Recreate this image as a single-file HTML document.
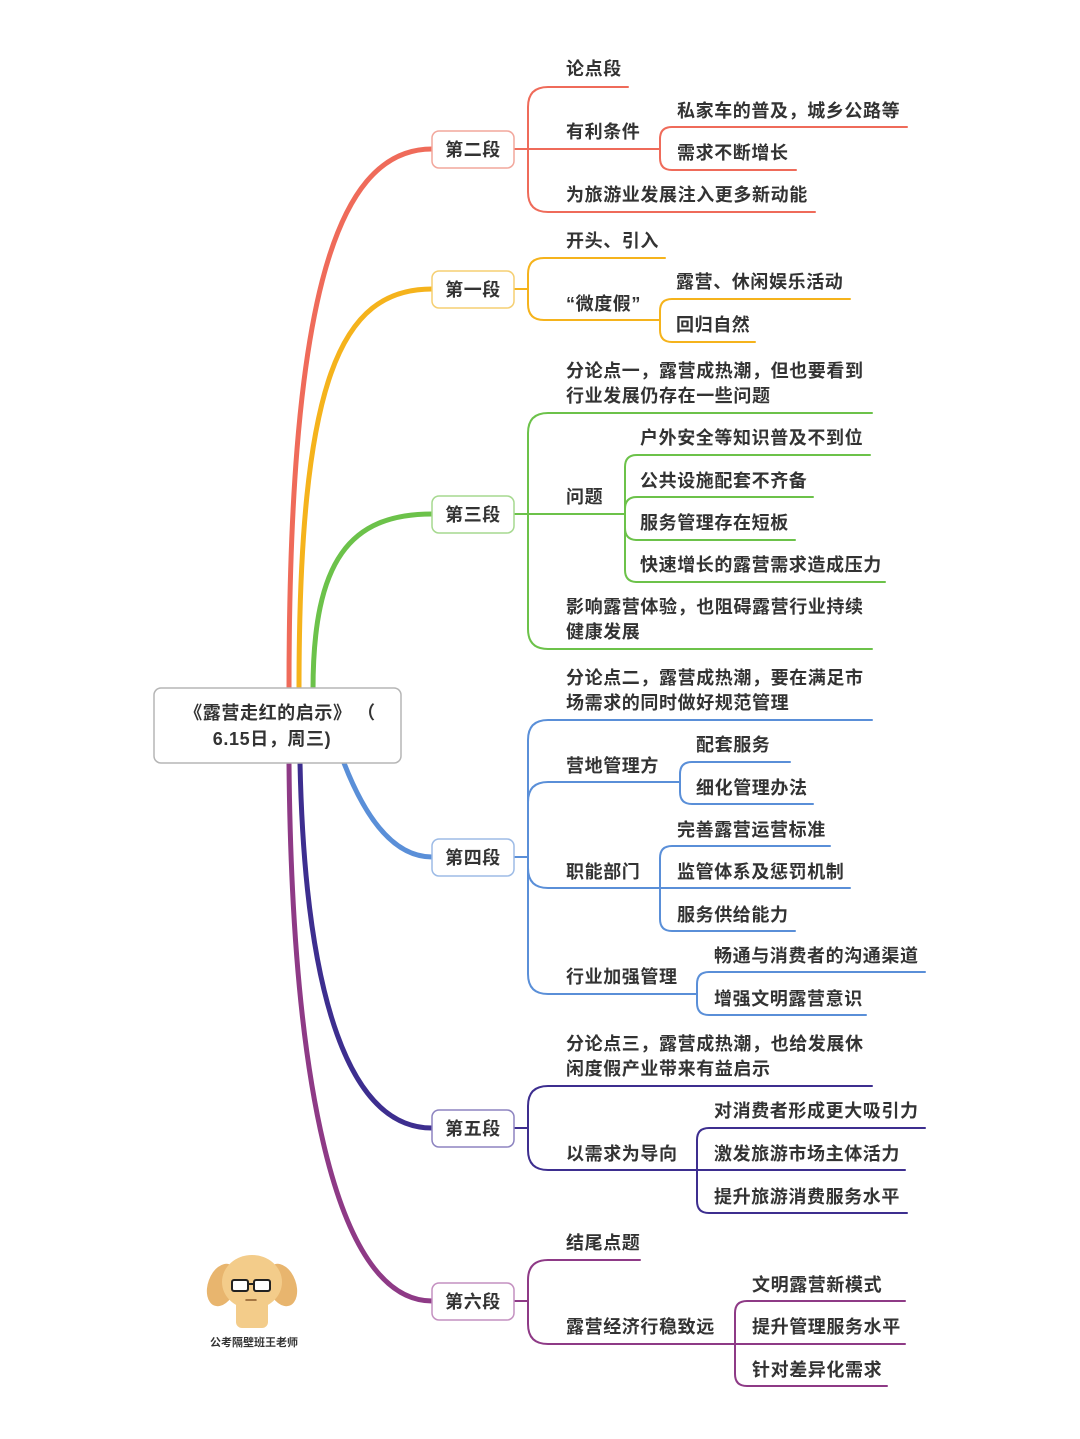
<!DOCTYPE html>
<html><head><meta charset="utf-8"><style>
html,body{margin:0;padding:0;background:#fff;}
svg{display:block;}
text{font-family:"Liberation Sans","Noto Sans CJK SC",sans-serif;font-size:18px;font-weight:bold;fill:#333;letter-spacing:0.6px;}
path{fill:none;stroke-linecap:round;}
</style></head><body>
<svg width="1080" height="1439" viewBox="0 0 1080 1439" xmlns="http://www.w3.org/2000/svg">
<rect width="1080" height="1439" fill="#fff"/>
<path d="M289,690 C289,320 330,149 432,149" stroke="#ef6b5a" stroke-width="5"/>
<path d="M299,690 C299,380 340,289 432,289" stroke="#f5b31c" stroke-width="5"/>
<path d="M313,690 C313,560 350,514 432,514" stroke="#6cc24a" stroke-width="5"/>
<path d="M344,763 C370,830 400,857 432,857" stroke="#5a8fd8" stroke-width="5"/>
<path d="M300,763 C305,1000 350,1128 432,1128" stroke="#3d2e8f" stroke-width="5"/>
<path d="M289,763 C292,1100 340,1301 432,1301" stroke="#8e3a86" stroke-width="5"/>

<g stroke="#ef6b5a" stroke-width="2">
<path d="M514,149 H660"/>
<path d="M528,149 V107 Q528,87 548,87 H628"/>
<path d="M528,149 V192 Q528,212 548,212 H815"/>
<path d="M660,149 V139 Q660,127 672,127 H907"/>
<path d="M660,149 V158 Q660,170 672,170 H796"/>
</g>
<g stroke="#f5b31c" stroke-width="2">
<path d="M514,289 H528 V274 Q528,258 544,258 H665"/>
<path d="M528,289 V304 Q528,320 544,320 H660"/>
<path d="M660,320 V311 Q660,299 672,299 H850"/>
<path d="M660,320 V330 Q660,342 672,342 H755"/>
</g>
<g stroke="#6cc24a" stroke-width="2">
<path d="M514,514 H625"/>
<path d="M528,514 V433 Q528,413 548,413 H872"/>
<path d="M528,514 V629 Q528,649 548,649 H872"/>
<path d="M625,514 V467 Q625,455 637,455 H870"/>
<path d="M625,514 V509 Q625,497 637,497 H813"/>
<path d="M625,514 V528 Q625,540 637,540 H795"/>
<path d="M625,514 V570 Q625,582 637,582 H885"/>
</g>
<g stroke="#5a8fd8" stroke-width="2">
<path d="M514,857 H528"/>
<path d="M528,857 V740 Q528,720 548,720 H872"/>
<path d="M528,857 V802 Q528,782 548,782 H680"/>
<path d="M528,857 V868 Q528,888 548,888 H660"/>
<path d="M528,857 V974 Q528,994 548,994 H697"/>
<path d="M680,782 V774 Q680,762 692,762 H790"/>
<path d="M680,782 V792 Q680,804 692,804 H813"/>
<path d="M660,888 V858 Q660,846 672,846 H830"/>
<path d="M660,888 H850"/>
<path d="M660,888 V919 Q660,931 672,931 H795"/>
<path d="M697,994 V984 Q697,972 709,972 H925"/>
<path d="M697,994 V1003 Q697,1015 709,1015 H866"/>
</g>
<g stroke="#3d2e8f" stroke-width="2">
<path d="M514,1128 H528"/>
<path d="M528,1128 V1106 Q528,1086 548,1086 H872"/>
<path d="M528,1128 V1150 Q528,1170 548,1170 H697"/>
<path d="M697,1170 V1140 Q697,1128 709,1128 H925"/>
<path d="M697,1170 H905"/>
<path d="M697,1170 V1201 Q697,1213 709,1213 H907"/>
</g>
<g stroke="#8e3a86" stroke-width="2">
<path d="M514,1301 H528"/>
<path d="M528,1301 V1280 Q528,1260 548,1260 H640"/>
<path d="M528,1301 V1324 Q528,1344 548,1344 H735"/>
<path d="M735,1344 V1313 Q735,1301 747,1301 H905"/>
<path d="M735,1344 H905"/>
<path d="M735,1344 V1374 Q735,1386 747,1386 H887"/>
</g>

<g stroke-width="1.5" fill="#fff">
<rect x="432" y="131" width="82" height="37" rx="7" stroke="#f2a79c"/>
<rect x="432" y="271" width="82" height="37" rx="7" stroke="#f5cf72"/>
<rect x="432" y="496" width="82" height="37" rx="7" stroke="#a6d98f"/>
<rect x="432" y="839" width="82" height="37" rx="7" stroke="#9dbbe6"/>
<rect x="432" y="1110" width="82" height="37" rx="7" stroke="#8d84c0"/>
<rect x="432" y="1283" width="82" height="37" rx="7" stroke="#c490c0"/>
<rect x="154" y="688" width="247" height="75" rx="7" stroke="#b5b5b5"/>
</g>
<g text-anchor="middle">
<text x="473" y="156">第二段</text>
<text x="473" y="296">第一段</text>
<text x="473" y="521">第三段</text>
<text x="473" y="864">第四段</text>
<text x="473" y="1135">第五段</text>
<text x="473" y="1308">第六段</text>
<text x="280" y="719">《露营走红的启示》 （</text>
<text x="272" y="745">6.15日，周三)</text>
</g>

<text x="566" y="75">论点段</text>
<text x="566" y="138">有利条件</text>
<text x="677" y="117">私家车的普及，城乡公路等</text>
<text x="677" y="159">需求不断增长</text>
<text x="566" y="201">为旅游业发展注入更多新动能</text>

<text x="566" y="247">开头、引入</text>
<text x="566" y="310">“微度假”</text>
<text x="676" y="288">露营、休闲娱乐活动</text>
<text x="676" y="331">回归自然</text>

<text x="566" y="377">分论点一，露营成热潮，但也要看到</text>
<text x="566" y="402">行业发展仍存在一些问题</text>
<text x="566" y="503">问题</text>
<text x="640" y="444">户外安全等知识普及不到位</text>
<text x="640" y="487">公共设施配套不齐备</text>
<text x="640" y="529">服务管理存在短板</text>
<text x="640" y="571">快速增长的露营需求造成压力</text>
<text x="566" y="613">影响露营体验，也阻碍露营行业持续</text>
<text x="566" y="638">健康发展</text>

<text x="566" y="684">分论点二，露营成热潮，要在满足市</text>
<text x="566" y="709">场需求的同时做好规范管理</text>
<text x="566" y="772">营地管理方</text>
<text x="696" y="751">配套服务</text>
<text x="696" y="794">细化管理办法</text>
<text x="566" y="878">职能部门</text>
<text x="677" y="836">完善露营运营标准</text>
<text x="677" y="878">监管体系及惩罚机制</text>
<text x="677" y="921">服务供给能力</text>
<text x="566" y="983">行业加强管理</text>
<text x="714" y="962">畅通与消费者的沟通渠道</text>
<text x="714" y="1005">增强文明露营意识</text>

<text x="566" y="1050">分论点三，露营成热潮，也给发展休</text>
<text x="566" y="1075">闲度假产业带来有益启示</text>
<text x="566" y="1160">以需求为导向</text>
<text x="714" y="1117">对消费者形成更大吸引力</text>
<text x="714" y="1160">激发旅游市场主体活力</text>
<text x="714" y="1203">提升旅游消费服务水平</text>

<text x="566" y="1249">结尾点题</text>
<text x="566" y="1333">露营经济行稳致远</text>
<text x="752" y="1291">文明露营新模式</text>
<text x="752" y="1333">提升管理服务水平</text>
<text x="752" y="1376">针对差异化需求</text>

<g>
<ellipse cx="222" cy="1285" rx="14" ry="22" fill="#e8b56e" transform="rotate(20 222 1285)"/>
<ellipse cx="282" cy="1285" rx="14" ry="22" fill="#e8b56e" transform="rotate(-20 282 1285)"/>
<ellipse cx="252" cy="1282" rx="30" ry="27" fill="#f3cc8a"/>
<rect x="236" y="1300" width="32" height="28" rx="6" fill="#f3cc8a"/>
<rect x="232" y="1280" width="16" height="11" rx="2" fill="#fff" stroke="#222" stroke-width="2"/>
<rect x="254" y="1280" width="16" height="11" rx="2" fill="#fff" stroke="#222" stroke-width="2"/>
<path d="M248,1284 H254" stroke="#222" stroke-width="2"/>
<path d="M246,1300 H256" stroke="#8a5a2a" stroke-width="1.5"/>
</g>
<text x="254" y="1346" text-anchor="middle" style="font-size:11px;letter-spacing:0">公考隔壁班王老师</text>
</svg>
</body></html>
